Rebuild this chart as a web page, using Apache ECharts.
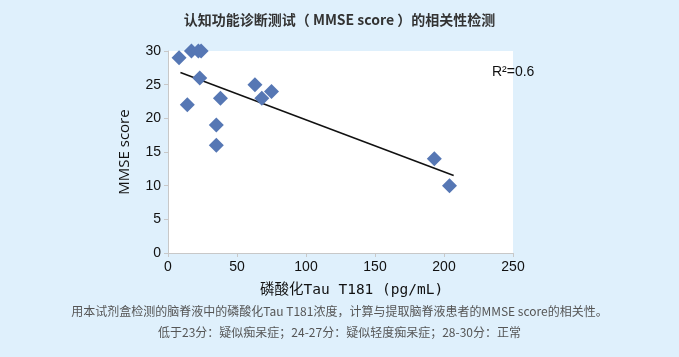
<!DOCTYPE html>
<html>
<head>
<meta charset="utf-8">
<script src="https://cdn.jsdelivr.net/npm/echarts@6/dist/echarts.min.js"></script>
<style>
html,body{margin:0;padding:0;background:#dff0fc;}
#c{width:679px;height:357px;}
</style>
</head>
<body>
<div id="c"></div>
<script>
var tauValues = [8, 17, 22, 24, 14, 23, 38, 35, 35, 63, 68, 75, 193, 204];
var mmseValues = [29, 30, 30, 30, 22, 26, 23, 19, 16, 25, 23, 24, 14, 10];
var trendX = [9, 207];
var trendY = [26.8, 11.5];
var xTicks = [0, 50, 100, 150, 200, 250];
var yTicks = [0, 5, 10, 15, 20, 25, 30];
var titleText = '认知功能诊断测试（ MMSE score ）的相关性检测';
var xName = '磷酸化Tau T181 (pg/mL)';
var yName = 'MMSE score';
var r2Text = 'R²=0.6';
var note1 = '用本试剂盒检测的脑脊液中的磷酸化Tau T181浓度，计算与提取脑脊液患者的MMSE score的相关性。';
var note2 = '低于23分：疑似痴呆症；24-27分：疑似轻度痴呆症；28-30分：正常';

var pts = tauValues.map(function(v, i){ return [v, mmseValues[i]]; });
var trend = trendX.map(function(v, i){ return [v, trendY[i]]; });

var chart = echarts.init(document.getElementById('c'));
chart.setOption({
  backgroundColor: '#dff0fc',
  animation: false,
  title: {
    text: titleText, left: 'center', top: 8,
    textStyle: {fontSize: 14, fontWeight: 'bold', color: '#333', fontFamily: '"Noto Sans CJK SC", Arial, sans-serif'}
  },
  grid: {left: 168, right: 166, top: 51, bottom: 104, show: true, backgroundColor: '#ffffff', borderWidth: 0},
  xAxis: {
    type: 'value', min: xTicks[0], max: xTicks[xTicks.length-1], interval: 50,
    axisLine: {show: true, lineStyle: {color: '#c8c8c8', width: 1}},
    axisTick: {show: true, length: 4, lineStyle: {color: '#c8c8c8'}},
    axisLabel: {fontSize: 14, color: '#111', margin: 7, fontFamily: 'Arial, "Liberation Sans", sans-serif'},
    splitLine: {show: false}
  },
  yAxis: {
    type: 'value', min: yTicks[0], max: yTicks[yTicks.length-1], interval: 5,
    name: yName, nameLocation: 'middle', nameGap: 36, nameRotate: 90,
    nameTextStyle: {fontSize: 15, color: '#111', fontFamily: '"Open Sans", sans-serif'},
    axisLine: {show: true, lineStyle: {color: '#c8c8c8', width: 1}},
    axisTick: {show: true, length: 4, lineStyle: {color: '#c8c8c8'}},
    axisLabel: {fontSize: 14, color: '#111', margin: 7, fontFamily: 'Arial, "Liberation Sans", sans-serif'},
    splitLine: {show: false}
  },
  series: [
    {
      type: 'line', data: trend, symbol: 'none', silent: true,
      lineStyle: {color: '#111', width: 1.5}, z: 2
    },
    {
      type: 'scatter', data: pts, symbol: 'diamond', symbolSize: 15,
      itemStyle: {color: '#5677b4', opacity: 1}, z: 3
    }
  ],
  graphic: [
    {type: 'text', left: 492, top: 65, style: {text: r2Text, fontSize: 14, fill: '#111', fontFamily: 'Arial, "Liberation Sans", sans-serif'}},
    {type: 'text', left: 260, top: 283, style: {text: xName, fontSize: 14.5, fill: '#111', fontFamily: '"DejaVu Sans Mono", "Noto Sans CJK SC", monospace'}},
    {type: 'text', left: 'center', top: 305, style: {text: note1, fontSize: 12, fill: '#555', fontFamily: '"Noto Sans CJK SC", sans-serif'}},
    {type: 'text', left: 'center', top: 326, style: {text: note2, fontSize: 12, fill: '#555', fontFamily: '"Noto Sans CJK SC", sans-serif'}}
  ]
});
</script>
</body>
</html>
